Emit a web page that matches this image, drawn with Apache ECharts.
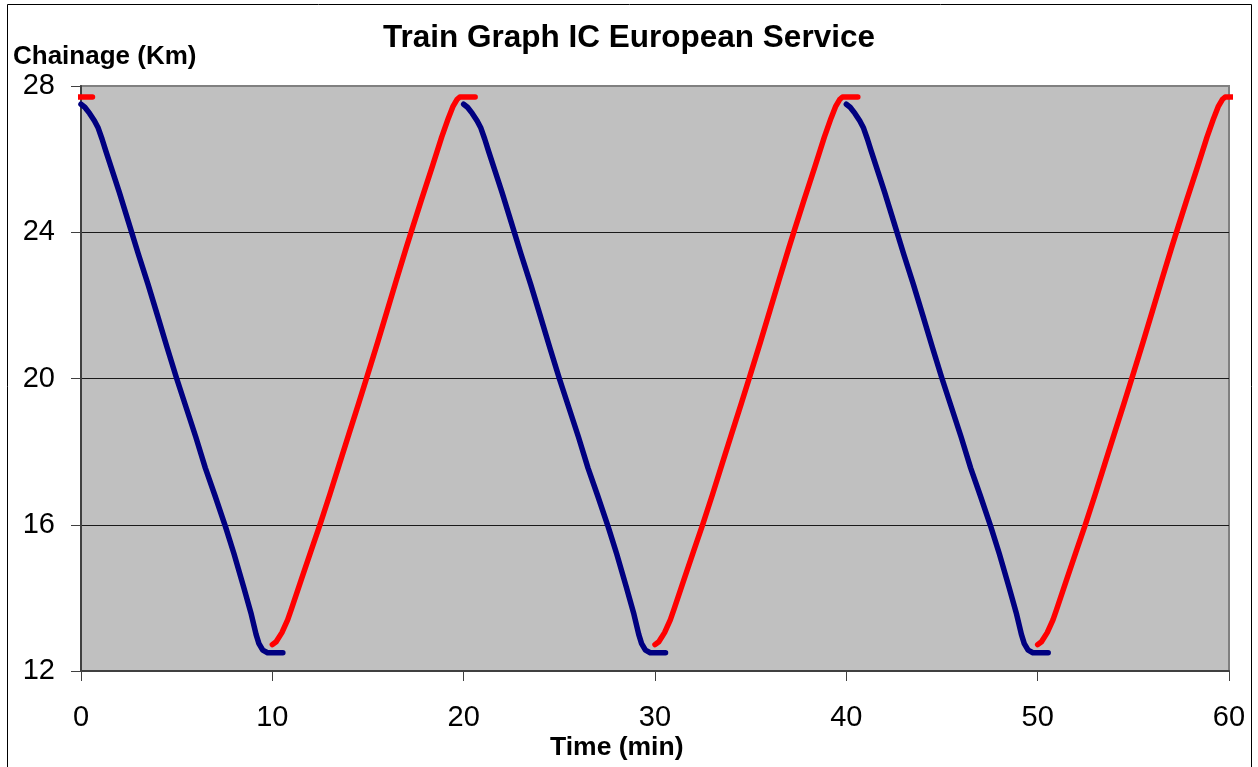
<!DOCTYPE html>
<html>
<head>
<meta charset="utf-8">
<title>Train Graph IC European Service</title>
<script src="https://cdn.jsdelivr.net/npm/echarts@6/dist/echarts.min.js"></script>
<style>
  html, body { margin: 0; padding: 0; background: #ffffff; }
  #chart { width: 1258px; height: 767px; }
</style>
</head>
<body>
<div id="chart"></div>
<script>
// One down trip (27.5 -> 12.5 km), minutes after departure vs chainage
const downTime = [0, 0.2, 0.45, 0.7, 0.9, 1.1, 1.3, 1.65, 2.0, 2.5, 3.0, 3.5, 4.0, 4.5, 5.0, 5.5, 6.0, 6.5, 7.0, 7.55, 8.0, 8.5, 8.9, 9.15, 9.3, 9.5, 9.75, 10.55];
const downKm   = [27.5, 27.42, 27.25, 27.05, 26.85, 26.55, 26.22, 25.66, 25.1, 24.25, 23.4, 22.58, 21.72, 20.85, 20.0, 19.2, 18.4, 17.55, 16.8, 15.95, 15.2, 14.3, 13.55, 13.0, 12.75, 12.57, 12.5, 12.5];

// One up trip (12.7 -> 27.7 km)
const upTime = [0, 0.2, 0.5, 0.8, 1.0, 1.5, 2.0, 2.5, 3.0, 3.5, 4.0, 4.5, 4.95, 5.5, 6.0, 6.5, 7.0, 7.3, 7.8, 8.35, 8.85, 9.2, 9.45, 9.65, 9.8, 10.6];
const upKm   = [12.72, 12.8, 13.05, 13.4, 13.7, 14.48, 15.25, 16.02, 16.82, 17.65, 18.48, 19.3, 20.05, 20.98, 21.85, 22.72, 23.58, 24.08, 24.9, 25.78, 26.6, 27.12, 27.45, 27.63, 27.7, 27.7];

// Departure times of each trip (min)
const downDepartures = [0, 20, 40];
const upDepartures = [-10, 10, 30, 50];

// Axis ticks
const xTicks = [0, 10, 20, 30, 40, 50, 60];
const yTicks = [12, 16, 20, 24, 28];

const FONT = 'Liberation Sans, Arial, Helvetica, sans-serif';

function tripSeries(times, kms, dep, color) {
  return {
    type: 'line',
    data: times.map((t, i) => [t + dep, kms[i]]),
    showSymbol: false,
    symbol: 'none',
    smooth: false,
    clip: true,
    lineStyle: { color: color, width: 5.5, cap: 'round', join: 'round' },
    emphasis: { disabled: true },
    z: 3
  };
}

const series = [];
upDepartures.forEach(d => series.push(tripSeries(upTime, upKm, d, '#FF0000')));
downDepartures.forEach(d => series.push(tripSeries(downTime, downKm, d, '#000080')));

const chart = echarts.init(document.getElementById('chart'), null, { renderer: 'canvas' });
chart.setOption({
  animation: false,
  backgroundColor: '#ffffff',
  title: {
    text: 'Train Graph IC European Service',
    left: 'center',
    top: 17,
    textStyle: { fontFamily: FONT, fontWeight: 'bold', fontSize: 31.5, color: '#000' }
  },
  grid: {
    left: 81, top: 86, right: 29, bottom: 96,
    show: true,
    backgroundColor: '#C0C0C0',
    borderColor: '#808080',
    borderWidth: 2
  },
  xAxis: {
    type: 'value',
    min: xTicks[0],
    max: xTicks[xTicks.length - 1],
    interval: 10,
    axisLine: { show: true, onZero: false, lineStyle: { color: '#404040', width: 2 } },
    axisTick: { show: true, length: 10, lineStyle: { color: '#404040', width: 1 } },
    axisLabel: { fontFamily: FONT, fontSize: 29, color: '#000', margin: 32 },
    splitLine: { show: false }
  },
  yAxis: {
    type: 'value',
    min: yTicks[0],
    max: yTicks[yTicks.length - 1],
    interval: 4,
    axisLine: { show: true, onZero: false, lineStyle: { color: '#404040', width: 2 } },
    axisTick: { show: true, length: 10, lineStyle: { color: '#404040', width: 1 } },
    axisLabel: { fontFamily: FONT, fontSize: 29, color: '#000', margin: 26 },
    splitLine: { show: true, lineStyle: { color: ['#1a1a1a', '#1a1a1a', '#1a1a1a', '#1a1a1a', '#808080'], width: 1 } }
  },
  graphic: [
    {
      type: 'rect',
      shape: { x: 7.5, y: 4.5, width: 1244, height: 800 },
      style: { fill: 'none', stroke: '#000', lineWidth: 1 },
      silent: true, z: 100
    },
    {
      type: 'text',
      left: 13, top: 44,
      style: { text: 'Chainage (Km)', font: 'bold 26px ' + FONT, fill: '#000' }
    },
    {
      type: 'text',
      left: 550, top: 734,
      style: { text: 'Time (min)', font: 'bold 26.5px ' + FONT, fill: '#000' }
    }
  ],
  series: series
});
</script>
</body>
</html>
